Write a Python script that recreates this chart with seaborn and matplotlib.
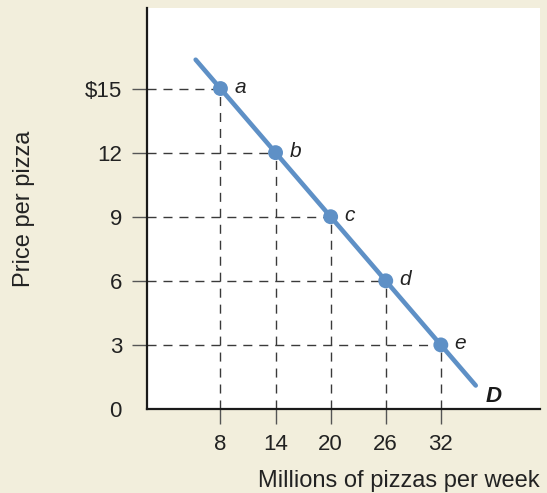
import matplotlib
matplotlib.use("Agg")
import matplotlib.pyplot as plt
import seaborn as sns
import pandas as pd

# demand schedule for pizza
quantity = [8, 14, 20, 26, 32]
price = [15, 12, 9, 6, 3]
point_labels = ["a", "b", "c", "d", "e"]

# ends of the demand curve D
curve_q = [5.3, 35.8]
curve_p = [16.35, 1.1]

y_ticklabels = ["0", "3", "6", "9", "12", "$15"]

sns.set_style("white")
plt.rcParams["font.family"] = ["Liberation Sans", "DejaVu Sans"]

bg = "#f2eedc"
blue = "#5e90c6"
dash_col = "#3a3a3a"

fig = plt.figure(figsize=(5.47, 4.93), dpi=100, facecolor=bg)
ax = fig.add_axes([147 / 547, 1 - 409 / 493, 393 / 547, 401 / 493])
ax.set_facecolor("white")

# soft grey shading along the right edge of the panel
for i, a in enumerate([0.05, 0.1, 0.16, 0.22]):
    ax.axvspan(0.965 + i * 0.008, 0.973 + i * 0.008, color="#888888", alpha=a,
               lw=0, transform=ax.transAxes, zorder=0)

# dashed guide lines from axes to each point
for q, p in zip(quantity, price):
    ax.plot([0, q], [p, p], color=dash_col, lw=1, ls=(0, (6.5, 5)), zorder=1)
    ax.plot([q, q], [0, p], color=dash_col, lw=1, ls=(0, (6.5, 5)), zorder=1)

df_curve = pd.DataFrame({"q": curve_q, "p": curve_p})
sns.lineplot(data=df_curve, x="q", y="p", color=blue, lw=3.3, ax=ax, zorder=2)

df_pts = pd.DataFrame({"q": quantity, "p": price})
sns.scatterplot(data=df_pts, x="q", y="p", color=blue, s=115, edgecolor="none",
                ax=ax, zorder=3)

for q, p, lab in zip(quantity, price, point_labels):
    ax.annotate(lab, (q, p), xytext=(10, 1), textcoords="offset points",
                fontsize=15, style="italic", color="#222222", va="center")

ax.annotate("D", (curve_q[1], curve_p[1]), xytext=(7, -8), textcoords="offset points",
            fontsize=16, style="italic", weight="bold", color="#1a1a1a", va="center")

ax.set_xlim(0, 42.8)
ax.set_ylim(0, 18.77)
ax.set_xticks(quantity)
ax.set_xticklabels([str(q) for q in quantity])
ax.set_yticks([0] + price[::-1])
ax.set_yticklabels(y_ticklabels)

for s in ["top", "right"]:
    ax.spines[s].set_visible(False)
for s in ["left", "bottom"]:
    ax.spines[s].set_color("#1a1a1a")
    ax.spines[s].set_linewidth(1.6)

ax.tick_params(axis="both", direction="out", length=11, width=1, color="#555555",
               labelsize=16, labelcolor="#222222", pad=7)
ax.tick_params(axis="y", left=True)
ax.tick_params(axis="x", bottom=True)
ax.yaxis.get_major_ticks()[0].tick1line.set_visible(False)

ax.set_xlabel("Millions of pizzas per week", fontsize=17, color="#222222")
ax.set_ylabel("Price per pizza", fontsize=17, color="#222222")
ax.xaxis.set_label_coords(1.0, -0.152)
ax.xaxis.label.set_ha("right")
ax.yaxis.set_label_coords(-0.285, 0.5)

fig.savefig("out.png", dpi=100, facecolor=bg)
